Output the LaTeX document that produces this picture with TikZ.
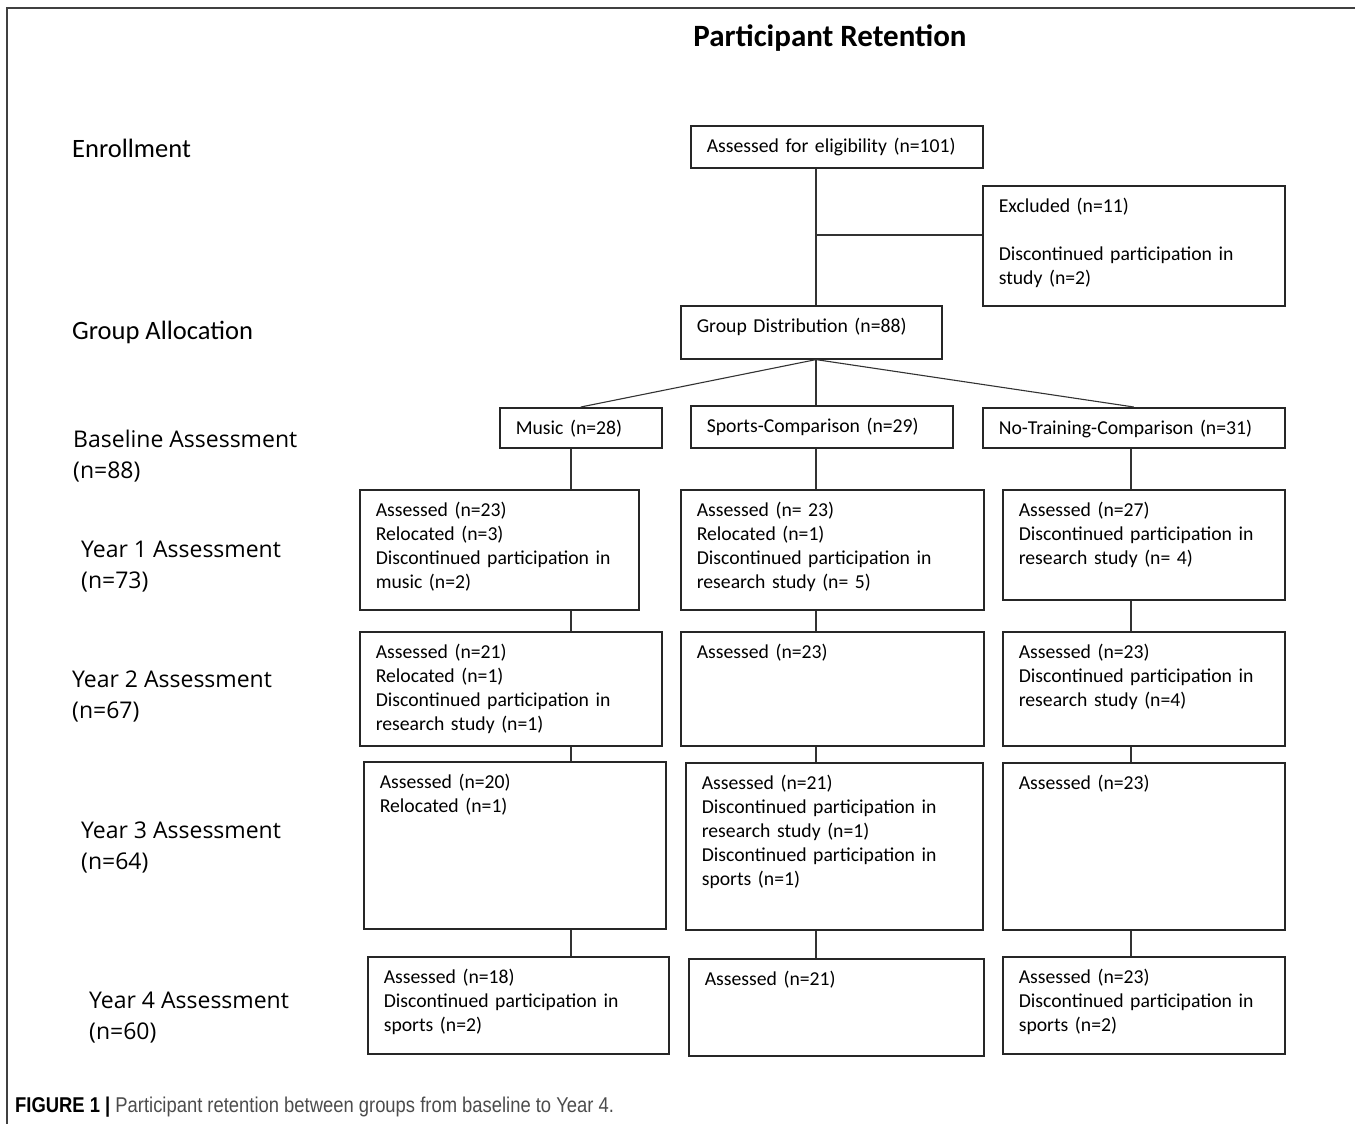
\documentclass[tikz,border=0pt]{standalone}
\usepackage{fontspec}
\setmainfont{Carlito}
\newfontfamily\stagefont{Open Sans}
\newfontfamily\capfont[FakeStretch=0.86]{Liberation Sans}
\usetikzlibrary{positioning}

\begin{document}
\begin{tikzpicture}[x=1pt, y=-1pt,
      stage/.style={draw=black!85, line width=1.6pt, anchor=north west, align=left, inner xsep=16pt, inner ysep=10pt, text height=17pt, font=\fontsize{19.7}{24}\selectfont},
      phase/.style={anchor=north west, align=left, inner sep=0pt, text height=18pt, font=\stagefont\fontsize{23}{31}\selectfont},
      link/.style={draw=black!80, line width=1.1pt}
      ]
      \useasboundingbox (0,0) rectangle (1355,1124);
      \draw[black!75, line width=1.5pt] (7,1124) -- (7,8) -- (1355,8);

      % Title and phases
      \node[font=\bfseries\fontsize{31}{36}\selectfont] (title) at (830,38) {Participant Retention};
      \node[phase, font=\fontsize{26.5}{31}\selectfont] (enroll) at (72,139) {Enrollment};
      \node[phase, font=\fontsize{26.5}{31}\selectfont] (alloc) at (72,321) {Group Allocation};
      \node[phase] (base) at (73,460) {Baseline Assessment\\(n=88)};
      \node[phase] (year1) at (81,570) {Year 1 Assessment\\(n=73)};
      \node[phase] (year2) at (72,700) {Year 2 Assessment\\(n=67)};
      \node[phase] (year3) at (81,851) {Year 3 Assessment\\(n=64)};
      \node[phase] (year4) at (89,1021) {Year 4 Assessment\\(n=60)};

      % Enrollment and allocation
      \node[stage, text width=260pt, text depth=5pt] (elig) at (690,125) {Assessed for eligibility (n=101)};
      \node[stage, text width=270pt, text depth=83pt] (excl) at (982,185) {Excluded (n=11)\\[24pt]Discontinued participation in\\study (n=2)};
      \node[stage, text width=229pt, text depth=16pt] (grp) at (680,305) {Group Distribution (n=88)};

      % Groups
      \node[stage, text width=130pt, text depth=3pt] (music) at (499,407) {Music (n=28)};
      \node[stage, text width=230pt, text depth=5pt] (sports) at (690,405) {Sports-Comparison (n=29)};
      \node[stage, text width=270pt, text depth=3pt] (none) at (982,407) {No-Training-Comparison (n=31)};

      % Year 1
      \node[stage, text width=247pt, text depth=83pt] (m1) at (359,489) {Assessed (n=23)\\Relocated (n=3)\\Discontinued participation in\\music (n=2)};
      \node[stage, text width=271pt, text depth=83pt] (s1) at (680,489) {Assessed (n= 23)\\Relocated (n=1)\\Discontinued participation in\\research study (n= 5)};
      \node[stage, text width=250pt, text depth=73pt] (n1) at (1002,489) {Assessed (n=27)\\Discontinued participation in\\research study (n= 4)};

      % Year 2
      \node[stage, text width=270pt, text depth=77pt] (m2) at (359,631) {Assessed (n=21)\\Relocated (n=1)\\Discontinued participation in\\research study (n=1)};
      \node[stage, text width=271pt, text depth=77pt] (s2) at (680,631) {Assessed (n=23)};
      \node[stage, text width=250pt, text depth=77pt] (n2) at (1002,631) {Assessed (n=23)\\Discontinued participation in\\research study (n=4)};

      % Year 3
      \node[stage, text width=270pt, text depth=130pt] (m3) at (363,761) {Assessed (n=20)\\Relocated (n=1)};
      \node[stage, text width=265pt, text depth=130pt] (s3) at (685,762) {Assessed (n=21)\\Discontinued participation in\\research study (n=1)\\Discontinued participation in\\sports (n=1)};
      \node[stage, text width=250pt, text depth=130pt] (n3) at (1002,762) {Assessed (n=23)};

      % Year 4
      \node[stage, text width=269pt, text depth=60pt] (m4) at (367,956) {Assessed (n=18)\\Discontinued participation in\\sports (n=2)};
      \node[stage, text width=263pt, text depth=60pt] (s4) at (688,958) {Assessed (n=21)};
      \node[stage, text width=250pt, text depth=60pt] (n4) at (1002,956) {Assessed (n=23)\\Discontinued participation in\\sports (n=2)};

      % Caption
      \node[anchor=base west, inner sep=0pt, text=black!70, font=\capfont\fontsize{21.4}{24}\selectfont] (cap) at (15,1112) {\textcolor{black}{\bfseries FIGURE 1 |} Participant retention between groups from baseline to Year 4.};

      % Columns
      \coordinate (c0) at (816,0);
      \coordinate (cm) at (571,0);
      \coordinate (cn) at (1131,0);
      \coordinate (exj) at (816,235);

      % Connectors
      \draw[link] (elig.south -| c0) -- (grp.north -| c0);
      \draw[link] (exj) -- (exj -| excl.west);
      \draw[link] (grp.south -| c0) -- (music.north);
      \draw[link] (grp.south -| c0) -- (sports.north -| c0);
      \draw[link] (grp.south -| c0) -- (none.north);
      \draw[link] (music.south -| cm) -- (m1.north -| cm);
      \draw[link] (m1.south -| cm) -- (m2.north -| cm);
      \draw[link] (m2.south -| cm) -- (m3.north -| cm);
      \draw[link] (m3.south -| cm) -- (m4.north -| cm);
      \draw[link] (sports.south -| c0) -- (s1.north -| c0);
      \draw[link] (s1.south -| c0) -- (s2.north -| c0);
      \draw[link] (s2.south -| c0) -- (s3.north -| c0);
      \draw[link] (s3.south -| c0) -- (s4.north -| c0);
      \draw[link] (none.south -| cn) -- (n1.north -| cn);
      \draw[link] (n1.south -| cn) -- (n2.north -| cn);
      \draw[link] (n2.south -| cn) -- (n3.north -| cn);
      \draw[link] (n3.south -| cn) -- (n4.north -| cn);

    \end{tikzpicture}
\end{document}
